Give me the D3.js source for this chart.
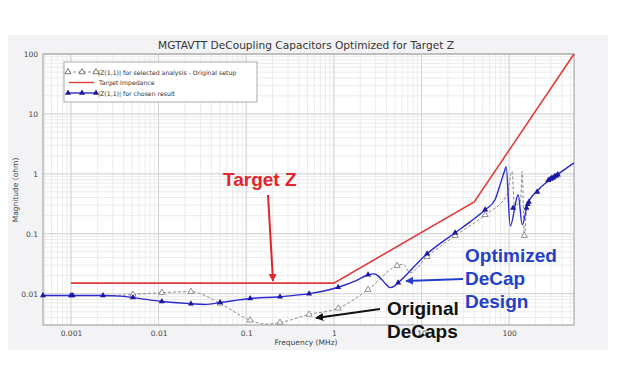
<!DOCTYPE html>
<html>
<head>
<meta charset="utf-8">
<script src="https://cdn.jsdelivr.net/npm/d3@7"></script>
<style>
  body { margin: 0; background: #fff; }
  text { font-family: "DejaVu Sans", sans-serif; }
  .note { font-family: "Liberation Sans", Arial, sans-serif; font-weight: bold; font-size: 19px; }
</style>
</head>
<body>
<div id="chart"></div>
<script>
// axis ticks
const xTicks = [0.001, 0.01, 0.1, 1, 10, 100];
const xTickLabels = ["0.001", "0.01", "0.1", "1", "10", "100"];
const yTicks = [0.01, 0.1, 1, 10, 100];
const yTickLabels = ["0.01", "0.1", "1", "10", "100"];

// target impedance (MHz, ohm)
const targetFreq = [0.001, 1, 40, 550];
const targetMag = [0.015, 0.015, 0.34, 100];

// |Z(1,1)| chosen result
const chosenFreq = [0.00048, 0.001, 0.00232, 0.0036, 0.0051, 0.0109, 0.0234, 0.034, 0.0503, 0.111, 0.243, 0.522,
  1.12, 1.8, 2.46, 2.9, 3.37, 3.88, 4.39, 4.94, 5.42, 11.6, 24.2, 35.9, 53.3, 69, 79, 88, 92.5,
  103, 127, 141, 161, 215, 354, 550];
const chosenMag = [0.0093, 0.0093, 0.0093, 0.0091, 0.0086, 0.0074, 0.0068, 0.0066, 0.0071, 0.0083, 0.0089, 0.0100,
  0.0128, 0.0165, 0.0207, 0.0214, 0.0185, 0.0147, 0.0126, 0.0135, 0.0152, 0.0464, 0.104, 0.158, 0.251, 0.37, 0.66, 1.08, 1.31,
  0.135, 0.447, 0.141, 0.30, 0.54, 0.96, 1.52];
const chosenMarkFreq = [0.00048, 0.001, 0.00105, 0.00232, 0.0051, 0.0109, 0.0234, 0.0503, 0.111, 0.243, 0.522,
  1.12, 2.46, 5.42, 11.6, 24.2, 53.3, 111, 158, 163, 168, 209, 280, 295, 305, 318, 330, 345, 360];
const chosenMarkMag = [0.0093, 0.0093, 0.0093, 0.0093, 0.0086, 0.0074, 0.0068, 0.0071, 0.0083, 0.0089, 0.0100,
  0.0128, 0.0207, 0.0152, 0.0464, 0.104, 0.251, 0.27, 0.27, 0.31, 0.34, 0.50, 0.78, 0.82, 0.84, 0.86, 0.9, 0.93, 0.97];

// |Z(1,1)| original setup
const origFreq = [0.00048, 0.001, 0.00232, 0.0036, 0.0051, 0.0109, 0.0234, 0.0503, 0.111, 0.164, 0.243, 0.522,
  1.12, 2.46, 5.27, 6.18, 7.42, 11.6, 24.2, 53.3, 95, 108, 115, 135, 141, 149, 160, 209, 318, 550];
const origMag = [0.0093, 0.0093, 0.0093, 0.0094, 0.0097, 0.0104, 0.0108, 0.0069, 0.0036, 0.0031, 0.0033, 0.0045,
  0.0057, 0.0117, 0.0293, 0.031, 0.0224, 0.0414, 0.0926, 0.207, 0.45, 1.1, 0.3, 0.35, 1.1, 0.093, 0.29, 0.5, 0.86, 1.52];
const origMarkFreq = [0.0051, 0.0109, 0.0234, 0.0503, 0.111, 0.243, 0.522, 1.12, 2.46, 5.27, 11.6, 24.2, 53.3, 149];
const origMarkMag = [0.0097, 0.0104, 0.0108, 0.0069, 0.0036, 0.0033, 0.0045, 0.0057, 0.0117, 0.0293, 0.0414, 0.0926, 0.207, 0.093];

const width = 624, height = 380;
const pl = 43, pr = 574, pt = 54, pb = 325;

const svg = d3.select("#chart").append("svg")
  .attr("width", width).attr("height", height);

const defs = svg.append("defs");
[["arrRed", "#e0262c"], ["arrBlue", "#2440c8"], ["arrBlack", "#111"]].forEach(([id, c]) => {
  defs.append("marker").attr("id", id)
    .attr("viewBox", "0 -5 10 10").attr("refX", 9).attr("refY", 0)
    .attr("markerWidth", 4).attr("markerHeight", 4).attr("orient", "auto")
    .append("path").attr("d", "M0,-5L10,0L0,5Z").attr("fill", c);
});

// panel
svg.append("rect").attr("x", 8).attr("y", 35).attr("width", 600).attr("height", 315)
  .attr("fill", "#f3f3f5");

const x = d3.scaleLog().domain([0.00048, 550]).range([pl, pr]);
const y = d3.scaleLog().domain([0.003, 100]).range([pb, pt]);

svg.append("rect").attr("x", pl).attr("y", pt)
  .attr("width", pr - pl).attr("height", pb - pt).attr("fill", "#fff");

// grid
const grid = svg.append("g");
grid.selectAll(".xmin").data(x.ticks()).enter().append("line")
  .attr("x1", d => x(d)).attr("x2", d => x(d)).attr("y1", pt).attr("y2", pb)
  .attr("stroke", "#ebebeb").attr("stroke-width", 1);
grid.selectAll(".ymin").data(y.ticks()).enter().append("line")
  .attr("y1", d => y(d)).attr("y2", d => y(d)).attr("x1", pl).attr("x2", pr)
  .attr("stroke", "#ebebeb").attr("stroke-width", 1);
grid.selectAll(".xmaj").data(xTicks).enter().append("line")
  .attr("x1", d => x(d)).attr("x2", d => x(d)).attr("y1", pt).attr("y2", pb)
  .attr("stroke", "#d4d4d4").attr("stroke-width", 1);
grid.selectAll(".ymaj").data(yTicks).enter().append("line")
  .attr("y1", d => y(d)).attr("y2", d => y(d)).attr("x1", pl).attr("x2", pr)
  .attr("stroke", "#d4d4d4").attr("stroke-width", 1);

svg.append("rect").attr("x", pl).attr("y", pt)
  .attr("width", pr - pl).attr("height", pb - pt)
  .attr("fill", "none").attr("stroke", "#9a9a9a");

// axes
const xAxis = svg.append("g").attr("transform", `translate(0,${pb})`)
  .call(d3.axisBottom(x).tickValues(xTicks).tickSize(0).tickPadding(6)
    .tickFormat((d, i) => xTickLabels[i]));
const yAxis = svg.append("g").attr("transform", `translate(${pl},0)`)
  .call(d3.axisLeft(y).tickValues(yTicks).tickSize(0).tickPadding(5)
    .tickFormat((d, i) => yTickLabels[i]));
[xAxis, yAxis].forEach(a => {
  a.select(".domain").remove();
  a.selectAll("text").attr("fill", "#444").style("font-size", "7.5px")
    .style("font-family", "DejaVu Sans, sans-serif");
});

svg.append("text").attr("x", 306).attr("y", 345).attr("text-anchor", "middle")
  .attr("fill", "#444").style("font-size", "7.5px").text("Frequency (MHz)");
svg.append("text").attr("transform", "translate(18,190) rotate(-90)").attr("text-anchor", "middle")
  .attr("fill", "#444").style("font-size", "7.5px").text("Magnitude (ohm)");
svg.append("text").attr("x", 306).attr("y", 49).attr("text-anchor", "middle")
  .attr("fill", "#333").style("font-size", "10.6px").text("MGTAVTT DeCoupling Capacitors Optimized for Target Z");

// series
const plot = svg.append("g");
const line = d3.line().x(d => x(d[0])).y(d => y(d[1])).curve(d3.curveMonotoneX);
const tri = d3.symbol().type(d3.symbolTriangle).size(16);

plot.append("path").datum(d3.zip(origFreq, origMag))
  .attr("d", line).attr("fill", "none").attr("stroke", "#8c8c8c")
  .attr("stroke-width", 1).attr("stroke-dasharray", "3,2");
plot.selectAll(".om").data(d3.zip(origMarkFreq, origMarkMag)).enter().append("path")
  .attr("d", tri).attr("transform", d => `translate(${x(d[0])},${y(d[1])})`)
  .attr("fill", "#fff").attr("stroke", "#777").attr("stroke-width", 0.8);

plot.append("path").datum(d3.zip(targetFreq, targetMag))
  .attr("d", d3.line().x(d => x(d[0])).y(d => y(d[1])))
  .attr("fill", "none").attr("stroke", "#e03a3a").attr("stroke-width", 1.6);

plot.append("path").datum(d3.zip(chosenFreq, chosenMag))
  .attr("d", line).attr("fill", "none").attr("stroke", "#2a2ad0").attr("stroke-width", 1.4);
plot.selectAll(".cm").data(d3.zip(chosenMarkFreq, chosenMarkMag)).enter().append("path")
  .attr("d", tri).attr("transform", d => `translate(${x(d[0])},${y(d[1])})`)
  .attr("fill", "#1a1aa0");

// legend
const lg = svg.append("g");
lg.append("rect").attr("x", 64).attr("y", 62).attr("width", 193).attr("height", 40)
  .attr("fill", "#fff").attr("stroke", "#aaa");
lg.append("line").attr("x1", 68).attr("x2", 96).attr("y1", 72).attr("y2", 72)
  .attr("stroke", "#8c8c8c").attr("stroke-dasharray", "3,2");
[68, 82, 96].forEach(px => lg.append("path").attr("d", tri)
  .attr("transform", `translate(${px},72)`).attr("fill", "#fff").attr("stroke", "#555").attr("stroke-width", 0.8));
lg.append("line").attr("x1", 69).attr("x2", 94).attr("y1", 82.5).attr("y2", 82.5)
  .attr("stroke", "#e03a3a").attr("stroke-width", 1.4);
lg.append("line").attr("x1", 68).attr("x2", 96).attr("y1", 93).attr("y2", 93)
  .attr("stroke", "#2a2ad0").attr("stroke-width", 1.4);
[68, 82, 96].forEach(px => lg.append("path").attr("d", tri)
  .attr("transform", `translate(${px},93)`).attr("fill", "#1a1aa0"));
const lt = [["|Z(1,1)| for selected analysis - Original setup", 98, 74.5],
            ["Target Impedance", 99, 85], ["|Z(1,1)| for chosen result", 98, 95.5]];
lg.selectAll(".lt").data(lt).enter().append("text")
  .attr("x", d => d[1]).attr("y", d => d[2]).attr("fill", "#333")
  .style("font-size", "6.2px").text(d => d[0]);

// annotations
svg.append("line").attr("x1", 268).attr("y1", 195).attr("x2", 273).attr("y2", 281)
  .attr("stroke", "#e0262c").attr("stroke-width", 2).attr("marker-end", "url(#arrRed)");
svg.append("text").attr("class", "note").attr("x", 223).attr("y", 186)
  .attr("fill", "#e0262c").text("Target Z");

svg.append("line").attr("x1", 463).attr("y1", 279).attr("x2", 406).attr("y2", 281)
  .attr("stroke", "#2440c8").attr("stroke-width", 2).attr("marker-end", "url(#arrBlue)");
svg.append("g").selectAll("text").data(["Optimized", "DeCap", "Design"]).enter().append("text")
  .attr("class", "note").attr("x", 465).attr("y", (d, i) => 262 + i * 23)
  .attr("fill", "#2440c8").text(d => d);

svg.append("line").attr("x1", 380).attr("y1", 309).attr("x2", 316).attr("y2", 318)
  .attr("stroke", "#111").attr("stroke-width", 2).attr("marker-end", "url(#arrBlack)");
svg.append("g").selectAll("text").data(["Original", "DeCaps"]).enter().append("text")
  .attr("class", "note").attr("x", 387).attr("y", (d, i) => 315 + i * 23)
  .attr("fill", "#111").text(d => d);
</script>
</body>
</html>
